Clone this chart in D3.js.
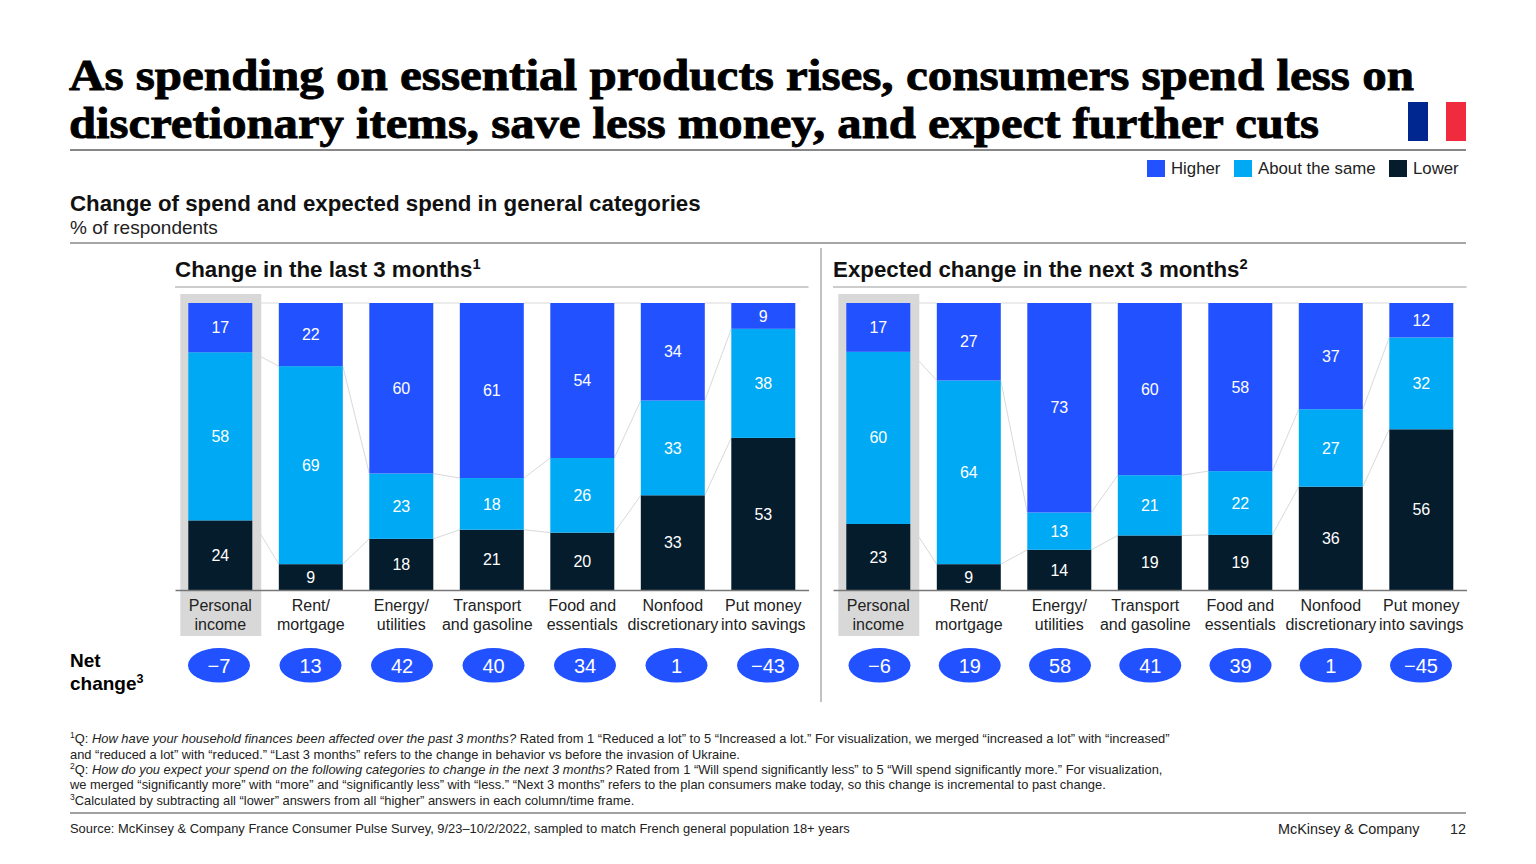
<!DOCTYPE html>
<html>
<head>
<meta charset="utf-8">
<script src="https://cdn.jsdelivr.net/npm/d3@7"></script>
<style>
  body { margin: 0; background: #fff; }
  text { font-family: "Liberation Sans", Arial, sans-serif; }
</style>
</head>
<body>
<div id="chart"></div>
<script>
// chart values
var categories = ["Personal income", "Rent/ mortgage", "Energy/ utilities", "Transport and gasoline",
                  "Food and essentials", "Nonfood discretionary", "Put money into savings"];
var categoryLines = [["Personal", "income"], ["Rent/", "mortgage"], ["Energy/", "utilities"], ["Transport", "and gasoline"],
                     ["Food and", "essentials"], ["Nonfood", "discretionary"], ["Put money", "into savings"]];
var seriesNames = ["Higher", "About the same", "Lower"];
var seriesColors = ["#2251ff", "#00a9f4", "#051c2c"];

var lastHigher = [17, 22, 60, 61, 54, 34, 9];
var lastSame = [58, 69, 23, 18, 26, 33, 38];
var lastLower = [24, 9, 18, 21, 20, 33, 53];
var lastNet = [-7, 13, 42, 40, 34, 1, -43];

var nextHigher = [17, 27, 73, 60, 58, 37, 12];
var nextSame = [60, 64, 13, 21, 22, 27, 32];
var nextLower = [23, 9, 14, 19, 19, 36, 56];
var nextNet = [-6, 19, 58, 41, 39, 1, -45];

var width = 1536, height = 864;

var svg = d3.select("#chart")
  .append("svg")
    .attr("width", width)
    .attr("height", height)
    .style("display", "block");

// text helper, parts are plain strings or {t, i, sup}
function addText(x, y, size, parts, opts) {
  opts = opts || {};
  var t = svg.append("text")
    .attr("x", x)
    .attr("y", y)
    .attr("font-size", size)
    .attr("font-weight", opts.bold ? "bold" : null)
    .attr("fill", opts.fill || "#000")
    .attr("text-anchor", opts.anchor || "start");
  if (opts.fit) t.attr("textLength", opts.fit).attr("lengthAdjust", "spacingAndGlyphs");
  if (typeof parts === "string") parts = [parts];
  var drop = 0; // baseline to come back to after a superscript
  parts.forEach(function(p) {
    if (typeof p === "string") p = {t: p};
    var s = t.append("tspan").text(p.t);
    if (p.i) s.attr("font-style", "italic");
    if (p.sup) {
      s.attr("font-size", size * 0.66).attr("dy", -size * 0.36);
      drop = size * 0.36;
    } else if (drop) {
      s.attr("dy", drop);
      drop = 0;
    }
  });
  return t;
}

function rule(x1, x2, y, color, w) {
  svg.append("line").attr("x1", x1).attr("x2", x2).attr("y1", y).attr("y2", y)
    .attr("stroke", color).attr("stroke-width", w);
}

// title
[["As spending on essential products rises, consumers spend less on", 90, 1345],
 ["discretionary items, save less money, and expect further cuts", 138, 1250]].forEach(function(l) {
  addText(69, l[1], 45, l[0], {bold: true, fit: l[2]})
    .style("font-family", "'Liberation Serif', serif")
    .attr("stroke", "#000").attr("stroke-width", 0.9);
});
rule(70, 1466, 150, "#111", 1);

// flag
[["#00278f", 1408], ["#ffffff", 1428], ["#ef2b3d", 1446]].forEach(function(f, i) {
  svg.append("rect").attr("x", f[1]).attr("y", 102).attr("width", i == 1 ? 18 : 20).attr("height", 39).attr("fill", f[0]);
});

// legend
var legendX = [1147, 1234, 1389];
seriesNames.forEach(function(name, i) {
  svg.append("rect").attr("x", legendX[i]).attr("y", 160).attr("width", 18).attr("height", 17).attr("fill", seriesColors[i]);
  addText(legendX[i] + 24, 174, 16.8, name, {fill: "#222"});
});

// headings
addText(70, 211, 22.3, "Change of spend and expected spend in general categories", {bold: true, fill: "#111"});
addText(70, 234, 19, "% of respondents", {fill: "#222"});
rule(70, 1466, 243, "#888", 1.6);
svg.append("line").attr("x1", 821).attr("x2", 821).attr("y1", 248).attr("y2", 702)
  .attr("stroke", "#999").attr("stroke-width", 1.2);

// one stacked panel
function drawPanel(opts) {
  var data = categories.map(function(c, i) {
    return {category: c, Higher: opts.higher[i], "About the same": opts.same[i], Lower: opts.lower[i]};
  });

  var x = d3.scaleBand().domain(categories).range(opts.range).paddingInner(0.293).paddingOuter(0.1465);
  var y = d3.scaleLinear().domain([0, 1]).range([590, 303]);
  var color = d3.scaleOrdinal().domain(seriesNames).range(seriesColors);
  // stack from the bottom, each column rescaled to the full height
  var stacked = d3.stack().keys(seriesNames.slice().reverse()).offset(d3.stackOffsetExpand)(data);

  addText(opts.range[0], 277, 22.3, [opts.title, {t: opts.note, sup: true}], {bold: true, fill: "#111"});
  rule(opts.range[0], opts.range[1], 287, "#bbb", 1.4);

  // grey highlight behind first column
  svg.append("rect")
    .attr("x", x(categories[0]) - 8).attr("y", 294)
    .attr("width", x.bandwidth() + 17).attr("height", 342)
    .attr("fill", "#d8d8d8");

  // connectors
  var joins = svg.append("g");
  stacked.forEach(function(layer) {
    layer.slice(0, -1).forEach(function(d, i) {
      joins.append("line")
        .attr("x1", x(categories[i]) + x.bandwidth())
        .attr("x2", x(categories[i + 1]))
        .attr("y1", y(d[1]))
        .attr("y2", y(layer[i + 1][1]))
        .attr("stroke", "#d9d9d9")
        .attr("stroke-width", 1);
    });
  });

  // bars
  var groups = svg.append("g").selectAll("g").data(stacked).enter().append("g")
    .attr("fill", function(d) { return color(d.key); });
  groups.selectAll("rect")
    .data(function(d) { return d; })
    .enter()
    .append("rect")
      .attr("x", function(d) { return x(d.data.category); })
      .attr("y", function(d) { return y(d[1]); })
      .attr("width", x.bandwidth())
      .attr("height", function(d) { return y(d[0]) - y(d[1]); });

  // bar values
  stacked.forEach(function(layer) {
    svg.append("g").selectAll("text").data(layer).enter().append("text")
      .attr("x", function(d) { return x(d.data.category) + x.bandwidth() / 2; })
      .attr("y", function(d) { return (y(d[0]) + y(d[1])) / 2; })
      .attr("dy", "0.35em")
      .attr("text-anchor", "middle")
      .attr("font-size", 16)
      .attr("fill", "#fff")
      .text(function(d) { return d.data[layer.key]; });
  });

  // category axis
  var axis = svg.append("g")
    .attr("transform", "translate(0,590)")
    .call(d3.axisBottom(x).tickSize(0).tickPadding(0));
  axis.select(".domain").attr("stroke", "#777").attr("stroke-width", 1.4);
  axis.selectAll(".tick text").each(function(d, i) {
    var t = d3.select(this).text(null).attr("font-size", 16).attr("fill", "#222")
      .style("font-family", "'Liberation Sans', Arial, sans-serif");
    categoryLines[i].forEach(function(line, j) {
      // the transport label sits a little left of its bar in the original
      t.append("tspan").attr("x", i == 3 ? -4.5 : 0).attr("y", 21 + j * 19).attr("dy", 0).text(line);
    });
  });

  // net change ovals
  var net = d3.scalePoint().domain(categories).range(opts.netRange);
  var ovals = svg.append("g").selectAll("g").data(opts.net).enter().append("g")
    .attr("transform", function(d, i) { return "translate(" + net(categories[i]) + ",665.3)"; });
  ovals.append("ellipse").attr("rx", 31).attr("ry", 17.2).attr("fill", seriesColors[0]);
  ovals.append("text")
    .attr("dy", "0.36em")
    .attr("text-anchor", "middle")
    .attr("font-size", 20)
    .attr("fill", "#fff")
    .text(function(d) { return d < 0 ? "\u2212" + Math.abs(d) : d; });
}

drawPanel({title: "Change in the last 3 months", note: "1", higher: lastHigher, same: lastSame, lower: lastLower,
           net: lastNet, range: [175.05, 808.55], netRange: [219, 768]});
drawPanel({title: "Expected change in the next 3 months", note: "2", higher: nextHigher, same: nextSame, lower: nextLower,
           net: nextNet, range: [833.05, 1466.55], netRange: [879.5, 1421]});

// net change label
addText(70, 667, 19, "Net", {bold: true});
addText(70, 690, 19, ["change", {t: "3", sup: true}], {bold: true});

// footnotes
var notes = [
  [743, [{t: "1", sup: true}, "Q: ", {t: "How have your household finances been affected over the past 3 months?", i: true},
         " Rated from 1 \u201cReduced a lot\u201d to 5 \u201cIncreased a lot.\u201d For visualization, we merged \u201cincreased a lot\u201d with \u201cincreased\u201d"]],
  [759, ["and \u201creduced a lot\u201d with \u201creduced.\u201d \u201cLast 3 months\u201d refers to the change in behavior vs before the invasion of Ukraine."]],
  [774, [{t: "2", sup: true}, "Q: ", {t: "How do you expect your spend on the following categories to change in the next 3 months?", i: true},
         " Rated from 1 \u201cWill spend significantly less\u201d to 5 \u201cWill spend significantly more.\u201d For visualization,"]],
  [789, ["we merged \u201csignificantly more\u201d with \u201cmore\u201d and \u201csignificantly less\u201d with \u201cless.\u201d \u201cNext 3 months\u201d refers to the plan consumers make today, so this change is incremental to past change."]],
  [805, [{t: "3", sup: true}, "Calculated by subtracting all \u201clower\u201d answers from all \u201chigher\u201d answers in each column/time frame."]]
];
notes.forEach(function(n) { addText(70, n[0], 12.9, n[1], {fill: "#222"}); });

rule(70, 1466, 813, "#444", 1.2);
addText(70, 833, 12.9, "Source: McKinsey & Company France Consumer Pulse Survey, 9/23\u201310/2/2022, sampled to match French general population 18+ years", {fill: "#222"});
addText(1278, 834, 14.4, "McKinsey & Company", {fill: "#222"});
addText(1466, 834, 14.4, "12", {fill: "#222", anchor: "end"});
</script>
</body>
</html>
